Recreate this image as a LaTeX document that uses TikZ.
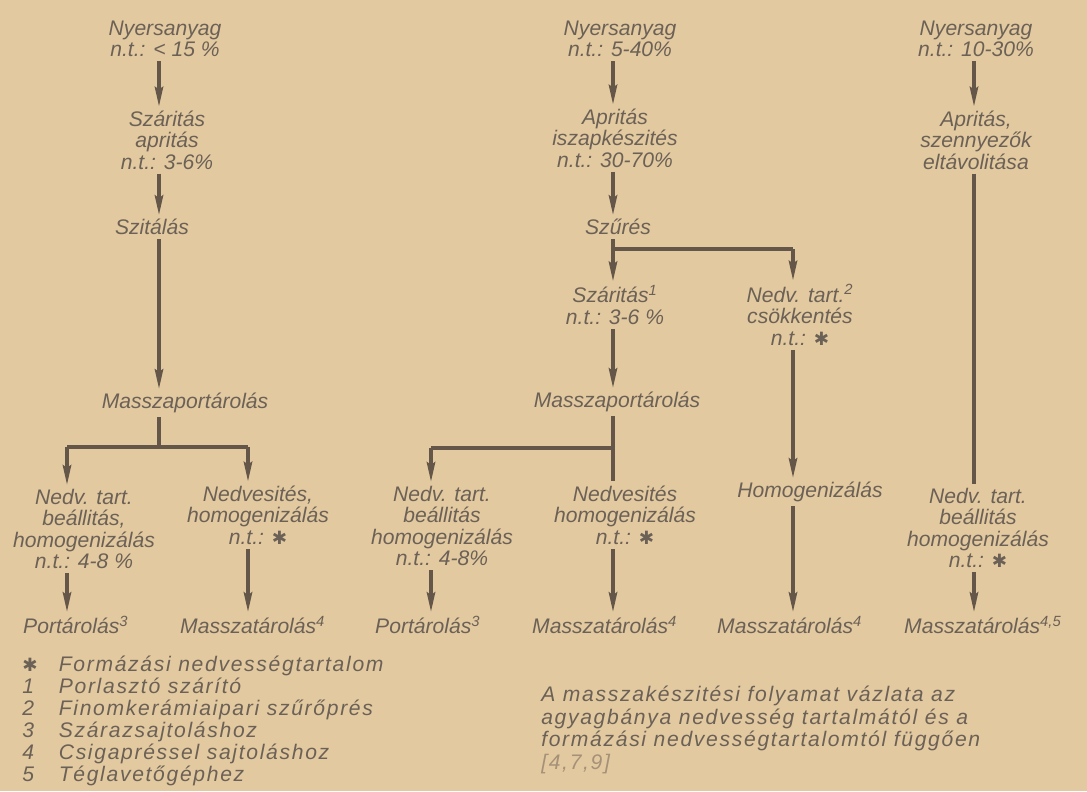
\documentclass[tikz,border=0pt]{standalone}
\usepackage{fontspec}
\setmainfont{Liberation Sans}
\newfontfamily\symfont{DejaVu Sans}
\newfontfamily\wideitfont[LetterSpace=8]{Liberation Sans}
\usetikzlibrary{arrows.meta}
\definecolor{paper}{RGB}{226,201,160}
\definecolor{ink}{RGB}{108,97,86}
\definecolor{lead}{RGB}{100,86,72}
\definecolor{pale}{RGB}{165,145,120}
\newcommand{\nstar}{{\symfont\fontsize{13}{13}\selectfont ✱}}

\begin{document}
\begin{tikzpicture}[x=0.025cm, y=-0.025cm,
	lbl/.style={align=center, inner sep=0pt, outer sep=3pt, text=ink, font=\itshape\fontsize{15}{15.3}\selectfont},
	ln/.style={draw=lead, line width=2.3pt},
	arr/.style={ln, -{Stealth[length=14pt, width=6pt, inset=2pt]}}]

	\useasboundingbox (0,0) rectangle (1087,791);
	\fill[paper] (0,0) rectangle (1087,791);

	\coordinate (cA) at (159,0);
	\coordinate (cA1) at (67,0);
	\coordinate (cA2) at (248,0);
	\coordinate (cB) at (613,0);
	\coordinate (cB1) at (431,0);
	\coordinate (cB3) at (793,0);
	\coordinate (cC) at (974,0);

	\node[lbl] (nyA) at (165,39) {Nyersanyag\\n.t.: < 15 \%};
	\node[lbl] (szA) at (167,140) {Száritás\\apritás\\n.t.: 3-6\%};
	\node[lbl] (sziA) at (152,227) {Szitálás};
	\node[lbl] (mpA) at (185,403) {Masszaportárolás};
	\node[lbl] (nbA) at (84,529) {Nedv. tart.\\beállitás,\\homogenizálás\\n.t.: 4-8 \%};
	\node[lbl] (neA) at (258,515) {Nedvesités,\\homogenizálás\\n.t.: \nstar};
	\node[lbl, anchor=west] (ptA) at (19,625) {Portárolás\textsuperscript{3}};
	\node[lbl, anchor=west] (msA) at (176,625) {Masszatárolás\textsuperscript{4}};

	\node[lbl] (nyB) at (620,39) {Nyersanyag\\n.t.: 5-40\%};
	\node[lbl] (apB) at (615,138) {Apritás\\iszapkészités\\n.t.: 30-70\%};
	\node[lbl] (szuB) at (618,227) {Szűrés};
	\node[lbl] (szB) at (615,305) {Száritás\textsuperscript{1}\\n.t.: 3-6 \%};
	\node[lbl] (ncB) at (800,315) {Nedv. tart.\textsuperscript{2}\\csökkentés\\n.t.: \nstar};
	\node[lbl] (mpB) at (617,402) {Masszaportárolás};
	\node[lbl] (nbB) at (442,526) {Nedv. tart.\\beállitás\\homogenizálás\\n.t.: 4-8\%};
	\node[lbl] (neB) at (625,515) {Nedvesités\\homogenizálás\\n.t.: \nstar};
	\node[lbl] (hoB) at (810,492) {Homogenizálás};
	\node[lbl, anchor=west] (ptB) at (371,625) {Portárolás\textsuperscript{3}};
	\node[lbl, anchor=west] (msB) at (528,625) {Masszatárolás\textsuperscript{4}};
	\node[lbl, anchor=west] (msB3) at (713,625) {Masszatárolás\textsuperscript{4}};

	\node[lbl] (nyC) at (976,39) {Nyersanyag\\n.t.: 10-30\%};
	\node[lbl] (apC) at (976,140) {Apritás,\\szennyezők\\eltávolitása};
	\node[lbl] (nbC) at (978,528) {Nedv. tart.\\beállitás\\homogenizálás\\n.t.: \nstar};
	\node[lbl, anchor=west] (msC) at (900,625) {Masszatárolás\textsuperscript{4,5}};

	\draw[arr] (nyA.south -| cA) -- (szA.north -| cA);
	\draw[arr] (szA.south -| cA) -- (sziA.north -| cA);
	\draw[arr] (sziA.south -| cA) -- (mpA.north -| cA);
	\coordinate (jA) at (159,447);
	\coordinate (jA1) at (67,447);
	\coordinate (jA2) at (248,447);
	\draw[ln] (mpA.south -| cA) -- (jA);
	\draw[ln] (jA1) -- (jA2);
	\draw[arr] (jA1) -- (nbA.north -| cA1);
	\draw[arr] (jA2) -- (neA.north -| cA2);
	\draw[arr] (nbA.south -| cA1) -- (ptA.north -| cA1);
	\draw[arr] (neA.south -| cA2) -- (msA.north -| cA2);

	\draw[arr] (nyB.south -| cB) -- (apB.north -| cB);
	\draw[arr] (apB.south -| cB) -- (szuB.north -| cB);
	\coordinate (jB) at (613,249);
	\coordinate (jB3) at (793,249);
	\draw[ln] (szuB.south -| cB) -- (jB);
	\draw[ln] (jB) -- (jB3);
	\draw[arr] (jB) -- (szB.north -| cB);
	\draw[arr] (jB3) -- (ncB.north -| cB3);
	\draw[arr] (szB.south -| cB) -- (mpB.north -| cB);
	\coordinate (kB) at (613,448);
	\coordinate (kB1) at (431,448);
	\draw[ln] (mpB.south -| cB) -- (neB.north -| cB);
	\draw[ln] (kB1) -- (kB);
	\draw[arr] (kB1) -- (nbB.north -| cB1);
	\draw[arr] (nbB.south -| cB1) -- (ptB.north -| cB1);
	\draw[arr] (neB.south -| cB) -- (msB.north -| cB);
	\draw[arr] (ncB.south -| cB3) -- (hoB.north -| cB3);
	\draw[arr] (hoB.south -| cB3) -- (msB3.north -| cB3);

	\draw[arr] (nyC.south -| cC) -- (apC.north -| cC);
	\draw[ln] (apC.south -| cC) -- (nbC.north -| cC);
	\draw[arr] (nbC.south -| cC) -- (msC.north -| cC);

	\node[anchor=north west, inner sep=0pt, align=left, text=ink, font=\wideitfont\itshape\fontsize{15}{15.6}\selectfont] (lgd) at (22,656) {\makebox[26pt][l]{\nstar}Formázási nedvességtartalom\\
		\makebox[26pt][l]{1}Porlasztó szárító\\
		\makebox[26pt][l]{2}Finomkerámiaipari szűrőprés\\
		\makebox[26pt][l]{3}Szárazsajtoláshoz\\
		\makebox[26pt][l]{4}Csigapréssel sajtoláshoz\\
		\makebox[26pt][l]{5}Téglavetőgéphez};
	\node[anchor=north west, inner sep=0pt, align=left, text=ink, font=\wideitfont\itshape\fontsize{15}{16}\selectfont] (capt) at (541,686) {A masszakészitési folyamat vázlata az\\
		agyagbánya nedvesség tartalmától és a\\
		formázási nedvességtartalomtól függően\\
		{\color{pale}[4,7,9]}};
\end{tikzpicture}
\end{document}
